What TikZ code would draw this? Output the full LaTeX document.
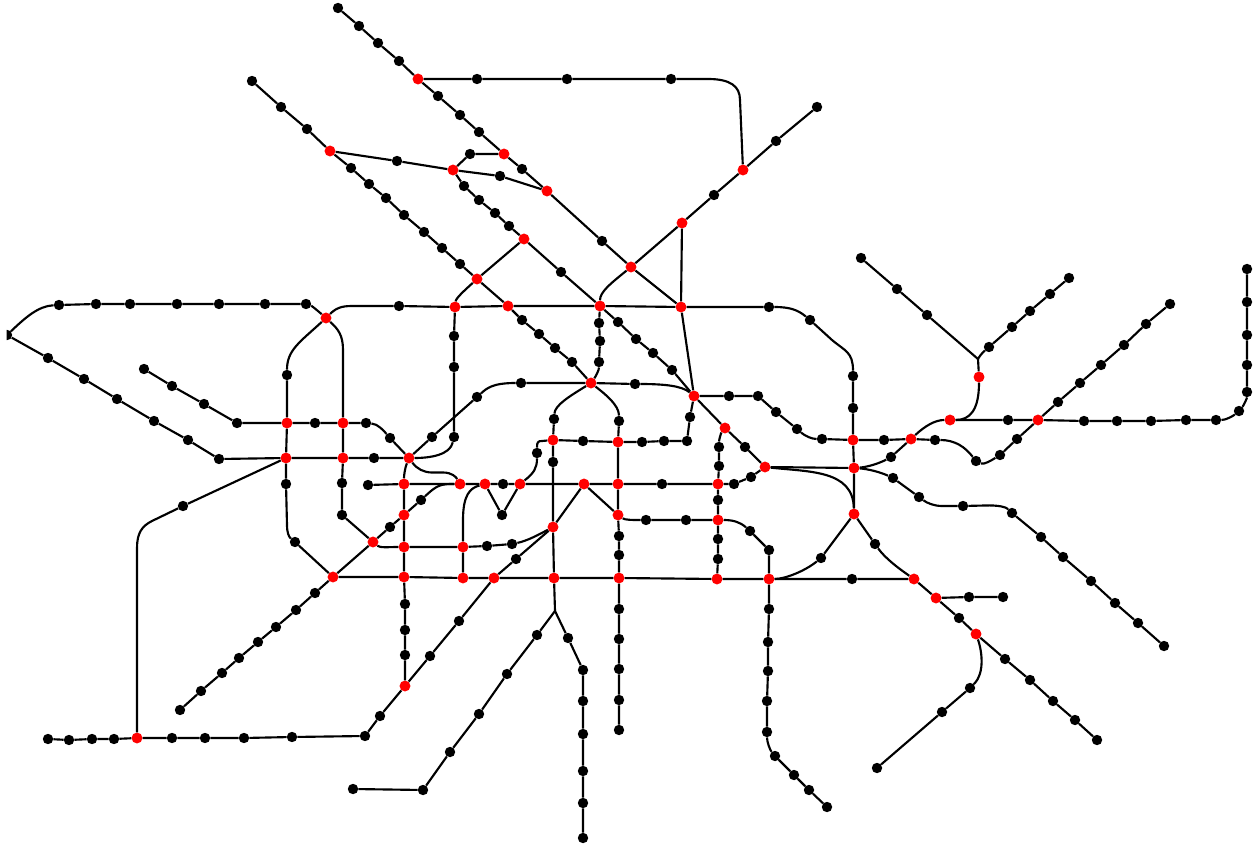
\documentclass[tikz,border=0pt]{standalone}

\begin{document}
\begin{tikzpicture}[
  x=0.75pt, y=-0.75pt,
  % Node styles
  stationdot/.style={circle, fill=black, inner sep=0pt, minimum size=7.8pt},
  hub/.style={stationdot, fill=red, minimum size=8.2pt},
  % Edge styles
  track/.style={black, line width=1.6pt, line join=round},
]
\useasboundingbox (0,0) rectangle (1256,848);
\clip (6.7,0) rectangle (1256,848);

% === INTERCHANGES (red) ===
\node[hub] (x1)  at (418,79)  {};
\node[hub] (x2)  at (330,151) {};
\node[hub] (x3)  at (453,170) {};
\node[hub] (x4)  at (504,154) {};
\node[hub] (x5)  at (547,191) {};
\node[hub] (x6)  at (743,170) {};
\node[hub] (x7)  at (682,223) {};
\node[hub] (x8)  at (524,239) {};
\node[hub] (x9)  at (631,267) {};
\node[hub] (x10) at (477,279) {};
\node[hub] (x11) at (326,318) {};
\node[hub] (x12) at (455,307) {};
\node[hub] (x13) at (508,306) {};
\node[hub] (x14) at (600,306) {};
\node[hub] (x15) at (681,307) {};
\node[hub] (x16) at (591,383) {};
\node[hub] (x17) at (694,396) {};
\node[hub] (x18) at (979,377) {};
\node[hub] (x19) at (950,420) {};
\node[hub] (x20) at (1038,420) {};
\node[hub] (x21) at (725,428) {};
\node[hub] (x22) at (287,423) {};
\node[hub] (x23) at (343,423) {};
\node[hub] (x24) at (553,440) {};
\node[hub] (x25) at (618,442) {};
\node[hub] (x26) at (853,440) {};
\node[hub] (x27) at (911,439) {};
\node[hub] (x28) at (286,458) {};
\node[hub] (x29) at (343,458) {};
\node[hub] (x30) at (409,458) {};
\node[hub] (x31) at (765,467) {};
\node[hub] (x32) at (854,468) {};
\node[hub] (x33) at (404,484) {};
\node[hub] (x34) at (460,484) {};
\node[hub] (x35) at (485,484) {};
\node[hub] (x36) at (520,484) {};
\node[hub] (x37) at (584,484) {};
\node[hub] (x38) at (618,484) {};
\node[hub] (x39) at (718,484) {};
\node[hub] (x40) at (404,515) {};
\node[hub] (x41) at (618,515) {};
\node[hub] (x42) at (854,514) {};
\node[hub] (x43) at (718,520) {};
\node[hub] (x44) at (553,527) {};
\node[hub] (x45) at (373,542) {};
\node[hub] (x46) at (404,547) {};
\node[hub] (x47) at (463,547) {};
\node[hub] (x48) at (333,577) {};
\node[hub] (x49) at (404,577) {};
\node[hub] (x50) at (463,578) {};
\node[hub] (x51) at (494,578) {};
\node[hub] (x52) at (554,578) {};
\node[hub] (x53) at (619,578) {};
\node[hub] (x54) at (717,579) {};
\node[hub] (x55) at (769,579) {};
\node[hub] (x56) at (914,579) {};
\node[hub] (x57) at (936,598) {};
\node[hub] (x58) at (976,634) {};
\node[hub] (x59) at (405,686) {};
\node[hub] (x60) at (137,738) {};

% === BRANCH POINTS (no dot) ===
\coordinate (fork1) at (978,359);
\coordinate (fork2) at (555,611);

% === STATIONS, NORTH ===
\node[stationdot] (na1) at (338,8)   {};
\node[stationdot] (na2) at (359,26)  {};
\node[stationdot] (na3) at (378,43)  {};
\node[stationdot] (na4) at (399,61)  {};
\node[stationdot] (nb1) at (438,96)  {};
\node[stationdot] (nb2) at (460,115) {};
\node[stationdot] (nb3) at (479,132) {};
\node[stationdot] (nc1) at (522,169) {};
\node[stationdot] (nc2) at (602,241) {};
\node[stationdot] (nd1) at (477,79)  {};
\node[stationdot] (nd2) at (567,79)  {};
\node[stationdot] (nd3) at (671,79)  {};
\node[stationdot] (ne1) at (817,107) {};
\node[stationdot] (ne2) at (776,141) {};
\node[stationdot] (ne3) at (714,195) {};
\node[stationdot] (nf1) at (252,81)  {};
\node[stationdot] (nf2) at (281,107) {};
\node[stationdot] (nf3) at (307,129) {};
\node[stationdot] (ng1) at (351,168) {};
\node[stationdot] (ng2) at (369,184) {};
\node[stationdot] (ng3) at (386,198) {};
\node[stationdot] (ng4) at (404,215) {};
\node[stationdot] (ng5) at (424,232) {};
\node[stationdot] (ng6) at (442,248) {};
\node[stationdot] (ng7) at (460,264) {};
\node[stationdot] (nh1) at (397,161) {};
\node[stationdot] (nh2) at (500,176) {};
\node[stationdot] (nh3) at (470,154) {};
\node[stationdot] (ni1) at (464,186) {};
\node[stationdot] (ni2) at (479,200) {};
\node[stationdot] (ni3) at (495,213) {};
\node[stationdot] (ni4) at (509,226) {};
\node[stationdot] (ni5) at (561,272) {};

% === STATIONS, CENTRE ===
\node[stationdot] (ca1) at (522,320) {};
\node[stationdot] (ca2) at (539,334) {};
\node[stationdot] (ca3) at (555,348) {};
\node[stationdot] (ca4) at (572,362) {};
\node[stationdot] (cb1) at (618,322) {};
\node[stationdot] (cb2) at (636,339) {};
\node[stationdot] (cb3) at (653,353) {};
\node[stationdot] (cb4) at (672,370) {};
\node[stationdot] (cc1) at (599,323) {};
\node[stationdot] (cc2) at (600,341) {};
\node[stationdot] (cc3) at (599,362) {};
\node[stationdot] (cd1) at (454,336) {};
\node[stationdot] (cd2) at (454,367) {};
\node[stationdot] (cd3) at (454,437) {};
\node[stationdot] (ce1) at (399,306) {};
\node[stationdot] (cf1) at (432,437) {};
\node[stationdot] (cf2) at (477,397) {};
\node[stationdot] (cf3) at (521,383) {};
\node[stationdot] (cf4) at (635,384) {};
\node[stationdot] (cg1) at (554,419) {};
\node[stationdot] (cg2) at (553,462) {};
\node[stationdot] (cg3) at (619,421) {};
\node[stationdot] (ch1) at (583,441) {};
\node[stationdot] (ch2) at (642,442) {};
\node[stationdot] (ch3) at (664,441) {};
\node[stationdot] (ch4) at (687,441) {};
\node[stationdot] (ch5) at (690,417) {};
\node[stationdot] (ci1) at (745,447) {};
\node[stationdot] (ci2) at (719,447) {};
\node[stationdot] (ci3) at (719,466) {};
\node[stationdot] (ci4) at (718,500) {};
\node[stationdot] (ci5) at (718,539) {};
\node[stationdot] (ci6) at (718,559) {};
\node[stationdot] (cj1) at (734,484) {};
\node[stationdot] (cj2) at (751,477) {};
\node[stationdot] (cj3) at (662,484) {};
\node[stationdot] (cj4) at (368,485) {};
\node[stationdot] (cj5) at (503,484) {};
\node[stationdot] (cj6) at (502,515) {};
\node[stationdot] (cj7) at (537,453) {};
\node[stationdot] (ck1) at (390,527) {};
\node[stationdot] (ck2) at (421,500) {};
\node[stationdot] (ck3) at (487,546) {};
\node[stationdot] (ck4) at (512,544) {};
\node[stationdot] (ck5) at (516,559) {};
\node[stationdot] (cl1) at (646,520) {};
\node[stationdot] (cl2) at (686,520) {};
\node[stationdot] (cl3) at (750,531) {};
\node[stationdot] (cl4) at (769,550) {};
\node[stationdot] (cl5) at (619,536) {};
\node[stationdot] (cl6) at (619,555) {};

% === STATIONS, WEST ===
\node[stationdot] (wa0) at (7,335)   {};
\node[stationdot] (wa1) at (59,305)  {};
\node[stationdot] (wa2) at (96,304)  {};
\node[stationdot] (wa3) at (130,304) {};
\node[stationdot] (wa4) at (177,304) {};
\node[stationdot] (wa5) at (219,304) {};
\node[stationdot] (wa6) at (265,304) {};
\node[stationdot] (wa7) at (306,304) {};
\node[stationdot] (wb1) at (48,358)  {};
\node[stationdot] (wb2) at (84,379)  {};
\node[stationdot] (wb3) at (117,399) {};
\node[stationdot] (wb4) at (154,421) {};
\node[stationdot] (wb5) at (188,440) {};
\node[stationdot] (wb6) at (219,459) {};
\node[stationdot] (wc1) at (144,369) {};
\node[stationdot] (wc2) at (172,386) {};
\node[stationdot] (wc3) at (204,404) {};
\node[stationdot] (wc4) at (237,423) {};
\node[stationdot] (wd1) at (287,375) {};
\node[stationdot] (wd2) at (315,423) {};
\node[stationdot] (wd3) at (366,423) {};
\node[stationdot] (wd4) at (390,438) {};
\node[stationdot] (wd5) at (374,458) {};
\node[stationdot] (we1) at (342,483) {};
\node[stationdot] (we2) at (342,515) {};
\node[stationdot] (we3) at (286,484) {};
\node[stationdot] (we4) at (295,542) {};
\node[stationdot] (we5) at (183,506) {};

% === STATIONS, EAST ===
\node[stationdot] (ea1) at (769,307) {};
\node[stationdot] (ea2) at (810,320) {};
\node[stationdot] (ea3) at (853,376) {};
\node[stationdot] (ea4) at (853,408) {};
\node[stationdot] (eb1) at (729,396) {};
\node[stationdot] (eb2) at (758,396) {};
\node[stationdot] (eb3) at (776,412) {};
\node[stationdot] (eb4) at (797,429) {};
\node[stationdot] (eb5) at (822,439) {};
\node[stationdot] (ec1) at (884,440) {};
\node[stationdot] (ec2) at (935,440) {};
\node[stationdot] (ec3) at (976,461) {};
\node[stationdot] (ec4) at (1000,455) {};
\node[stationdot] (ec5) at (1017,439) {};
\node[stationdot] (ec6) at (1058,402) {};
\node[stationdot] (ec7) at (1080,383) {};
\node[stationdot] (ec8) at (1101,365) {};
\node[stationdot] (ec9) at (1124,345) {};
\node[stationdot] (ec10) at (1146,324) {};
\node[stationdot] (ec11) at (1170,304) {};
\node[stationdot] (ed1) at (891,457) {};
\node[stationdot] (ed2) at (1008,420) {};
\node[stationdot] (ed3) at (1084,421) {};
\node[stationdot] (ed4) at (1117,421) {};
\node[stationdot] (ed5) at (1151,421) {};
\node[stationdot] (ed6) at (1186,420) {};
\node[stationdot] (ed7) at (1216,420) {};
\node[stationdot] (ed8) at (1239,411) {};
\node[stationdot] (ed9) at (1247,392) {};
\node[stationdot] (ed10) at (1247,365) {};
\node[stationdot] (ed11) at (1247,335) {};
\node[stationdot] (ed12) at (1247,302) {};
\node[stationdot] (ed13) at (1247,269) {};
\node[stationdot] (ee1) at (861,258) {};
\node[stationdot] (ee2) at (897,289) {};
\node[stationdot] (ee3) at (927,315) {};
\node[stationdot] (ef1) at (989,347) {};
\node[stationdot] (ef2) at (1012,327) {};
\node[stationdot] (ef3) at (1030,311) {};
\node[stationdot] (ef4) at (1050,294) {};
\node[stationdot] (ef5) at (1069,278) {};
\node[stationdot] (eg1) at (893,478) {};
\node[stationdot] (eg2) at (919,497) {};
\node[stationdot] (eg3) at (963,506) {};
\node[stationdot] (eg4) at (1012,513) {};
\node[stationdot] (eg5) at (1041,537) {};
\node[stationdot] (eg6) at (1063,557) {};
\node[stationdot] (eg7) at (1091,581) {};
\node[stationdot] (eg8) at (1115,603) {};
\node[stationdot] (eg9) at (1138,623) {};
\node[stationdot] (eg10) at (1164,646) {};

% === STATIONS, SOUTH ===
\node[stationdot] (sa1) at (315,593) {};
\node[stationdot] (sa2) at (296,610) {};
\node[stationdot] (sa3) at (276,627) {};
\node[stationdot] (sa4) at (258,642) {};
\node[stationdot] (sa5) at (239,658) {};
\node[stationdot] (sa6) at (222,673) {};
\node[stationdot] (sa7) at (201,691) {};
\node[stationdot] (sa8) at (180,710) {};
\node[stationdot] (sb1) at (405,604) {};
\node[stationdot] (sb2) at (405,630) {};
\node[stationdot] (sb3) at (405,655) {};
\node[stationdot] (sc1) at (459,621) {};
\node[stationdot] (sc2) at (430,656) {};
\node[stationdot] (sc3) at (380,716) {};
\node[stationdot] (sc4) at (365,736) {};
\node[stationdot] (sc5) at (292,737) {};
\node[stationdot] (sc6) at (244,738) {};
\node[stationdot] (sc7) at (205,738) {};
\node[stationdot] (sc8) at (172,738) {};
\node[stationdot] (sc9) at (114,739) {};
\node[stationdot] (sc10) at (92,739) {};
\node[stationdot] (sc11) at (69,740) {};
\node[stationdot] (sc12) at (48,739) {};
\node[stationdot] (sd1) at (537,635) {};
\node[stationdot] (sd2) at (507,674) {};
\node[stationdot] (sd3) at (479,714) {};
\node[stationdot] (sd4) at (450,752) {};
\node[stationdot] (sd5) at (423,790) {};
\node[stationdot] (sd6) at (353,789) {};
\node[stationdot] (se1) at (568,638) {};
\node[stationdot] (se2) at (583,670) {};
\node[stationdot] (se3) at (583,701) {};
\node[stationdot] (se4) at (583,734) {};
\node[stationdot] (se5) at (583,771) {};
\node[stationdot] (se6) at (583,803) {};
\node[stationdot] (se7) at (583,838) {};
\node[stationdot] (sf1) at (619,609) {};
\node[stationdot] (sf2) at (619,639) {};
\node[stationdot] (sf3) at (619,669) {};
\node[stationdot] (sf4) at (619,700) {};
\node[stationdot] (sf5) at (619,730) {};
\node[stationdot] (sg1) at (769,609) {};
\node[stationdot] (sg2) at (768,642) {};
\node[stationdot] (sg3) at (768,671) {};
\node[stationdot] (sg4) at (767,701) {};
\node[stationdot] (sg5) at (767,732) {};
\node[stationdot] (sg6) at (775,756) {};
\node[stationdot] (sg7) at (794,775) {};
\node[stationdot] (sg8) at (809,790) {};
\node[stationdot] (sg9) at (827,807) {};
\node[stationdot] (sh1) at (852,579) {};
\node[stationdot] (sh2) at (821,558) {};
\node[stationdot] (sh3) at (875,544) {};
\node[stationdot] (sh4) at (969,597) {};
\node[stationdot] (sh5) at (1003,597) {};
\node[stationdot] (sh6) at (959,618) {};
\node[stationdot] (si1) at (1005,659) {};
\node[stationdot] (si2) at (1030,680) {};
\node[stationdot] (si3) at (1053,701) {};
\node[stationdot] (si4) at (1075,720) {};
\node[stationdot] (si5) at (1097,740) {};
\node[stationdot] (sj1) at (970,688) {};
\node[stationdot] (sj2) at (942,712) {};
\node[stationdot] (sj3) at (877,768) {};

% ============================================================
% 1. NORTH-WEST DIAGONALS
% ============================================================
\draw[track] (na1) -- (na2) -- (na3) -- (na4) -- (x1) -- (nb1) -- (nb2) -- (nb3) -- (x4) -- (nc1) -- (x5) -- (nc2) -- (x9) -- (x15) -- (x17);
\draw[track] (x1) -- (nd1) -- (nd2) -- (nd3) -- (708,79) .. controls (730,79) and (740,86) .. (740,100) -- (x6);
\draw[track] (ne1) -- (ne2) -- (x6) -- (ne3) -- (x7) -- (x9) .. controls (610,284) and (600,292) .. (x14);
\draw[track] (x7) -- (x15);
\draw[track] (nf1) -- (nf2) -- (nf3) -- (x2) -- (ng1) -- (ng2) -- (ng3) -- (ng4) -- (ng5) -- (ng6) -- (ng7) -- (x10) -- (x13) -- (ca1) -- (ca2) -- (ca3) -- (ca4) -- (x16);
\draw[track] (x2) -- (nh1) -- (x3) -- (nh2) -- (x5);
\draw[track] (x4) -- (nh3) -- (x3) -- (ni1) -- (ni2) -- (ni3) -- (ni4) -- (x8) -- (ni5) -- (x14) -- (cb1) -- (cb2) -- (cb3) -- (cb4) -- (x17);
\draw[track] (x8) -- (x10) .. controls (465,290) and (456,298) .. (x12) -- (cd1) -- (cd2) -- (cd3) .. controls (450,455) and (430,458) .. (x30);

% ============================================================
% 2. OUTER RING AND WEST
% ============================================================
\draw[track] (x11) .. controls (338,306) and (345,306) .. (355,306) -- (ce1) -- (x12) -- (x13) -- (x14) -- (x15) -- (ea1) .. controls (790,307) and (798,310) .. (ea2) -- (832,340) .. controls (845,351) and (853,352) .. (ea3) -- (ea4) -- (x26) -- (x32) -- (x42);
\draw[track] (wa0) .. controls (25,318) and (38,306) .. (wa1) -- (wa2) -- (wa3) -- (wa4) -- (wa5) -- (wa6) -- (wa7) .. controls (312,306) and (318,311) .. (x11);
\draw[track] (wa0) -- (wb1) -- (wb2) -- (wb3) -- (wb4) -- (wb5) -- (wb6) -- (x28) -- (x29) -- (wd5) -- (x30);
\draw[track] (x11) .. controls (300,342) and (287,350) .. (wd1) -- (x22) -- (x28) -- (we3) -- (287,525) .. controls (287,533) and (289,537) .. (we4) -- (x48);
\draw[track] (x11) .. controls (338,329) and (343,335) .. (343,350) -- (x23) -- (x29) -- (we1) -- (we2) -- (x45) .. controls (380,548) and (388,547) .. (x46) -- (x47) -- (ck3) -- (ck4) .. controls (527,541) and (540,534) .. (x44);
\draw[track] (wc1) -- (wc2) -- (wc3) -- (wc4) -- (x22) -- (wd2) -- (x23) -- (wd3) .. controls (378,424) and (384,431) .. (wd4) -- (x30);
\draw[track] (x28) -- (we5) -- (152,521) .. controls (142,526) and (137,533) .. (137,548) -- (x60);

% ============================================================
% 3. CENTRE
% ============================================================
\draw[track] (x30) -- (cf1) -- (cf2) .. controls (487,388) and (493,383) .. (cf3) -- (x16) -- (cf4) .. controls (665,384) and (682,386) .. (x17);
\draw[track] (x14) -- (cc1) -- (cc2) -- (cc3) .. controls (599,370) and (596,376) .. (x16);
\draw[track] (x16) .. controls (570,396) and (555,405) .. (cg1) -- (x24) -- (cg2) -- (x44) -- (x52) -- (fork2);
\draw[track] (x16) .. controls (605,394) and (619,405) .. (cg3) -- (x25) -- (x38) -- (x41) -- (cl5) -- (cl6) -- (x53) -- (sf1) -- (sf2) -- (sf3) -- (sf4) -- (sf5);
\draw[track] (x17) -- (ch5) -- (ch4) -- (ch3) -- (ch2) -- (x25) -- (ch1) -- (x24) -- (542,441) .. controls (538,441) and (537,442) .. (cj7) .. controls (537,468) and (534,473) .. (x36);
\draw[track] (x17) -- (x21) -- (ci1) -- (x31) -- (x32);
\draw[track] (x21) .. controls (721,433) and (719,440) .. (ci2) -- (ci3) -- (x39) -- (ci4) -- (x43) -- (ci5) -- (ci6) -- (x54);
\draw[track] (cj4) -- (x33) -- (x34) -- (x35) -- (cj5) -- (x36) -- (x37) -- (x38) -- (cj3) -- (x39) -- (cj1) -- (cj2) -- (x31);
\draw[track] (x35) -- (cj6) -- (x36);
\draw[track] (x35) .. controls (470,488) and (463,495) .. (463,520) -- (x47) -- (x50);
\draw[track] (x30) .. controls (405,468) and (404,475) .. (x33) -- (x40) -- (x46) -- (x49) -- (sb1) -- (sb2) -- (sb3) -- (x59);
\draw[track] (x30) .. controls (417,469) and (424,472.5) .. (432,472.5) -- (443,472.5) .. controls (452,472.5) and (456,477) .. (x34);
\draw[track] (x34) -- (450,484) .. controls (438,484) and (433,489) .. (ck2) -- (x40) -- (ck1) -- (x45) -- (x48);
\draw[track] (x37) -- (x44) -- (ck5) -- (x51) -- (sc1) -- (sc2) -- (x59) -- (sc3) -- (sc4) -- (sc5) -- (sc6) -- (sc7) -- (sc8) -- (x60) -- (sc9) -- (sc10) -- (sc11) -- (sc12);
\draw[track] (x37) -- (x41) .. controls (625,520) and (632,520) .. (cl1) -- (cl2) -- (x43) .. controls (733,520) and (740,522) .. (cl3) -- (cl4) -- (x55);

% ============================================================
% 4. EAST
% ============================================================
\draw[track] (x17) -- (eb1) -- (eb2) -- (eb3) -- (eb4) .. controls (805,436) and (812,439) .. (eb5) -- (x26) -- (ec1) -- (x27) -- (ec2) .. controls (955,440) and (965,447) .. (ec3) .. controls (984,465) and (992,460) .. (ec4) -- (ec5) -- (x20) -- (ec6) -- (ec7) -- (ec8) -- (ec9) -- (ec10) -- (ec11);
\draw[track] (x32) .. controls (868,467) and (880,463) .. (ed1) -- (x27) .. controls (925,426) and (935,420) .. (x19) -- (ed2) -- (x20) -- (ed3) -- (ed4) -- (ed5) -- (ed6) -- (ed7) .. controls (1226,420) and (1233,416) .. (ed8) .. controls (1244,405) and (1247,398) .. (ed9) -- (ed10) -- (ed11) -- (ed12) -- (ed13);
\draw[track] (x19) .. controls (970,420) and (979,410) .. (x18) -- (fork1) -- (ee3) -- (ee2) -- (ee1);
\draw[track] (fork1) .. controls (979,357) and (982,353) .. (ef1) -- (ef2) -- (ef3) -- (ef4) -- (ef5);
\draw[track] (x31) .. controls (810,472) and (853,470) .. (x42);
\draw[track] (x32) .. controls (868,469) and (880,472) .. (eg1) -- (eg2) .. controls (927,503) and (934,506) .. (942,506) -- (eg3) -- (985,505.5) .. controls (998,505) and (1006,507) .. (eg4) -- (eg5) -- (eg6) -- (eg7) -- (eg8) -- (eg9) -- (eg10);

% ============================================================
% 5. SOUTH
% ============================================================
\draw[track] (x48) -- (x49) -- (x50) -- (x51) -- (x52) -- (x53) -- (x54) -- (x55) -- (sh1) -- (x56);
\draw[track] (x48) -- (sa1) -- (sa2) -- (sa3) -- (sa4) -- (sa5) -- (sa6) -- (sa7) -- (sa8);
\draw[track] (fork2) -- (sd1) -- (sd2) -- (sd3) -- (sd4) -- (sd5) -- (sd6);
\draw[track] (fork2) -- (se1) -- (se2) -- (se3) -- (se4) -- (se5) -- (se6) -- (se7);
\draw[track] (x55) -- (sg1) -- (sg2) -- (sg3) -- (sg4) -- (sg5) .. controls (767,742) and (770,750) .. (sg6) -- (sg7) -- (sg8) -- (sg9);
\draw[track] (x55) .. controls (785,579) and (805,571) .. (sh2) -- (x42) -- (sh3) .. controls (885,558) and (898,568) .. (x56) -- (x57) -- (sh6) -- (x58) -- (si1) -- (si2) -- (si3) -- (si4) -- (si5);
\draw[track] (x57) -- (sh4) -- (sh5);
\draw[track] (x58) .. controls (981,648) and (986,672) .. (sj1) -- (sj2) -- (sj3);

\end{tikzpicture}
\end{document}
